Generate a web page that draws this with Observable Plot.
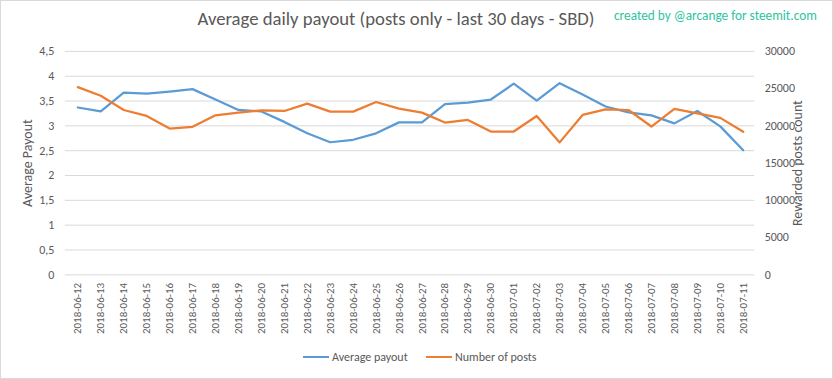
<!DOCTYPE html>
<html><head><meta charset="utf-8">
<script src="https://cdn.jsdelivr.net/npm/d3@7"></script>
<script src="https://cdn.jsdelivr.net/npm/@observablehq/plot@0.6"></script>
<style>
html,body{margin:0;padding:0;background:#fff;}
#wrap{position:relative;width:833px;height:379px;box-sizing:border-box;border:1px solid #d9d9d9;overflow:hidden;font-family:Carlito,Lato,"Open Sans",sans-serif;color:#595959;}
#title{position:absolute;left:0;width:790px;top:6px;text-align:center;font-size:18.7px;font-weight:300;color:#595959;}
#credit{position:absolute;left:613px;top:6px;font-size:13.3px;color:#2ec4a0;}
#legend{position:absolute;top:349px;left:0;width:833px;font-size:12px;color:#595959;}
.lg{position:absolute;display:flex;align-items:center;}
.sw{width:26px;height:2px;margin-right:3px;}
#chart{position:absolute;left:0;top:0;}
</style></head>
<body>
<div id="wrap">
<div id="chart"></div>
<div id="title">Average daily payout (posts only - last 30 days - SBD)</div>
<div id="credit">created by @arcange for steemit.com</div>
<div id="legend">
 <div class="lg" style="left:302px"><div class="sw" style="background:#5B9BD5"></div><span>Average payout</span></div>
 <div class="lg" style="left:425px"><div class="sw" style="background:#ED7D31"></div><span>Number of posts</span></div>
</div>
</div>
<script>
const dates = ["2018-06-12","2018-06-13","2018-06-14","2018-06-15","2018-06-16","2018-06-17","2018-06-18","2018-06-19","2018-06-20","2018-06-21","2018-06-22","2018-06-23","2018-06-24","2018-06-25","2018-06-26","2018-06-27","2018-06-28","2018-06-29","2018-06-30","2018-07-01","2018-07-02","2018-07-03","2018-07-04","2018-07-05","2018-07-06","2018-07-07","2018-07-08","2018-07-09","2018-07-10","2018-07-11"];
const avgPayout = [3.37,3.29,3.67,3.65,3.69,3.74,3.53,3.32,3.29,3.08,2.85,2.67,2.72,2.85,3.07,3.07,3.44,3.47,3.53,3.85,3.51,3.86,3.63,3.39,3.27,3.21,3.05,3.30,2.99,2.51];
const numPosts = [25200,24040,22130,21330,19640,19870,21420,21780,22090,22000,22980,21910,21910,23200,22310,21780,20440,20800,19240,19240,21330,17780,21470,22220,22130,19910,22270,21690,21070,19200];
const leftTicks = [0,0.5,1,1.5,2,2.5,3,3.5,4,4.5];
const rightTicks = [0,5000,10000,15000,20000,25000,30000];
const payoutMax = 4.5, postsMax = 30000;

const rows = dates.map((d,i)=>({date:d, payout:avgPayout[i], posts:numPosts[i], postsScaled:numPosts[i]/postsMax*payoutMax}));
const fmtComma = d => String(d).replace(".", ",");

const chart = Plot.plot({
  width: 833, height: 379,
  marginTop: 50, marginBottom: 105, marginLeft: 64, marginRight: 78,
  style: {fontFamily: "Carlito,Lato,'Open Sans',sans-serif", fontSize: "12px", color: "#595959", background: "transparent"},
  x: {type: "band", domain: dates, padding: 0},
  y: {domain: [0, payoutMax]},
  marks: [
    Plot.gridY(leftTicks, {stroke: "#d9d9d9", strokeOpacity: 1}),
    Plot.axisY(leftTicks, {anchor: "left", tickSize: 0, tickPadding: 11, tickFormat: fmtComma, label: null, fontSize: 12}),
    Plot.axisY([], {anchor: "left", tickSize: 0, label: "Average Payout", labelAnchor: "center", labelArrow: "none", labelOffset: 43, fontSize: 14}),
    Plot.axisY(rightTicks.map(t => t/postsMax*payoutMax), {anchor: "right", tickSize: 0, tickPadding: 10, tickFormat: (d,i) => String(rightTicks[i]), label: null, fontSize: 12}),
    Plot.axisY([], {anchor: "right", tickSize: 0, label: "Rewarded posts count", labelAnchor: "center", labelArrow: "none", labelOffset: 47, fontSize: 14}),
    Plot.axisX({anchor: "bottom", tickSize: 0, tickPadding: 8, tickRotate: -90, label: null, fontSize: 11}),
    Plot.line(rows, {x: "date", y: "payout", stroke: "#5B9BD5", strokeWidth: 2.25}),
    Plot.line(rows, {x: "date", y: "postsScaled", stroke: "#ED7D31", strokeWidth: 2.25})
  ]
});
document.getElementById("chart").appendChild(chart);
</script>
</body></html>
